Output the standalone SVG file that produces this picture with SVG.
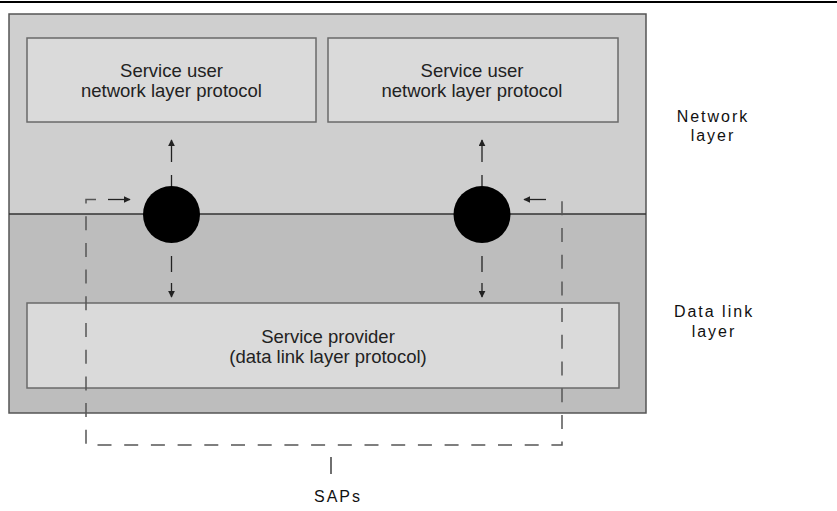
<svg xmlns="http://www.w3.org/2000/svg" width="837" height="511" viewBox="0 0 837 511">
<defs>
<style>
.box{fill:#dadada;stroke:#6a6a6a;stroke-width:1.5}
.t{font-family:"Liberation Sans",Arial,sans-serif;font-size:18.5px;fill:#222;text-anchor:middle}
.lbl{font-family:"Liberation Sans",Arial,sans-serif;font-size:16px;fill:#111;text-anchor:middle;letter-spacing:2px}
.dl{fill:none;stroke:#222;stroke-width:1.3;stroke-dasharray:15 11}
.ar{fill:none;stroke:#222;stroke-width:1.3}
.sap{fill:none;stroke:#555;stroke-width:1.5;stroke-dasharray:14 12.7}
</style>
<marker id="ah" viewBox="0 0 10 10" refX="9" refY="5" markerWidth="7" markerHeight="7" markerUnits="userSpaceOnUse" orient="auto">
<path d="M0,0 L10,5 L0,10 Z" fill="#222"/>
</marker>
</defs>
<rect width="837" height="511" fill="#fff"/>
<line x1="0" y1="2" x2="837" y2="2" stroke="#000" stroke-width="2"/>
<g id="layers">
<rect x="9" y="14" width="637" height="200" fill="#cfcfcf"/>
<rect x="9" y="214" width="637" height="199" fill="#bdbdbd"/>
<rect x="9" y="14" width="637" height="399" fill="none" stroke="#555" stroke-width="1.5"/>
<line x1="9" y1="214" x2="646" y2="214" stroke="#333" stroke-width="1.3"/>
</g>
<g id="user1">
<rect class="box" x="27" y="38" width="289" height="84"/>
<text class="t" x="171.5" y="77">Service user</text>
<text class="t" x="171.5" y="97">network layer protocol</text>
</g>
<g id="user2">
<rect class="box" x="328" y="38" width="290" height="84"/>
<text class="t" x="472" y="77">Service user</text>
<text class="t" x="472" y="97">network layer protocol</text>
</g>
<g id="provider">
<rect class="box" x="27" y="303" width="592" height="85"/>
<text class="t" x="328" y="343">Service provider</text>
<text class="t" x="328" y="363">(data link layer protocol)</text>
</g>
<g id="sap1"><circle cx="171.5" cy="214.5" r="28.5" fill="#000"/></g>
<g id="sap2"><circle cx="482" cy="214.5" r="28.5" fill="#000"/></g>
<g id="connectors">
<path class="sap" d="M96,199.5 H86 V445 H562 V199.5 H557"/>
<line class="ar" x1="171.5" y1="186" x2="171.5" y2="175"/>
<line class="ar" x1="171.5" y1="162" x2="171.5" y2="140" marker-end="url(#ah)"/>
<line class="ar" x1="482" y1="186" x2="482" y2="175"/>
<line class="ar" x1="482" y1="162" x2="482" y2="140" marker-end="url(#ah)"/>
<line class="ar" x1="171.5" y1="256" x2="171.5" y2="272"/>
<line class="ar" x1="171.5" y1="283" x2="171.5" y2="297" marker-end="url(#ah)"/>
<line class="ar" x1="482" y1="256" x2="482" y2="272"/>
<line class="ar" x1="482" y1="283" x2="482" y2="297" marker-end="url(#ah)"/>
<line class="ar" x1="108" y1="199.5" x2="130" y2="199.5" marker-end="url(#ah)"/>
<line class="ar" x1="546" y1="199.5" x2="524" y2="199.5" marker-end="url(#ah)"/>
<line class="ar" x1="331" y1="457" x2="331" y2="474" stroke="#444"/>
</g>
<g id="labels">
<text class="lbl" x="713" y="122">Network</text>
<text class="lbl" x="713" y="141">layer</text>
<text class="lbl" x="714" y="317">Data link</text>
<text class="lbl" x="714" y="337">layer</text>
<text class="lbl" x="338" y="502">SAPs</text>
</g>
</svg>
